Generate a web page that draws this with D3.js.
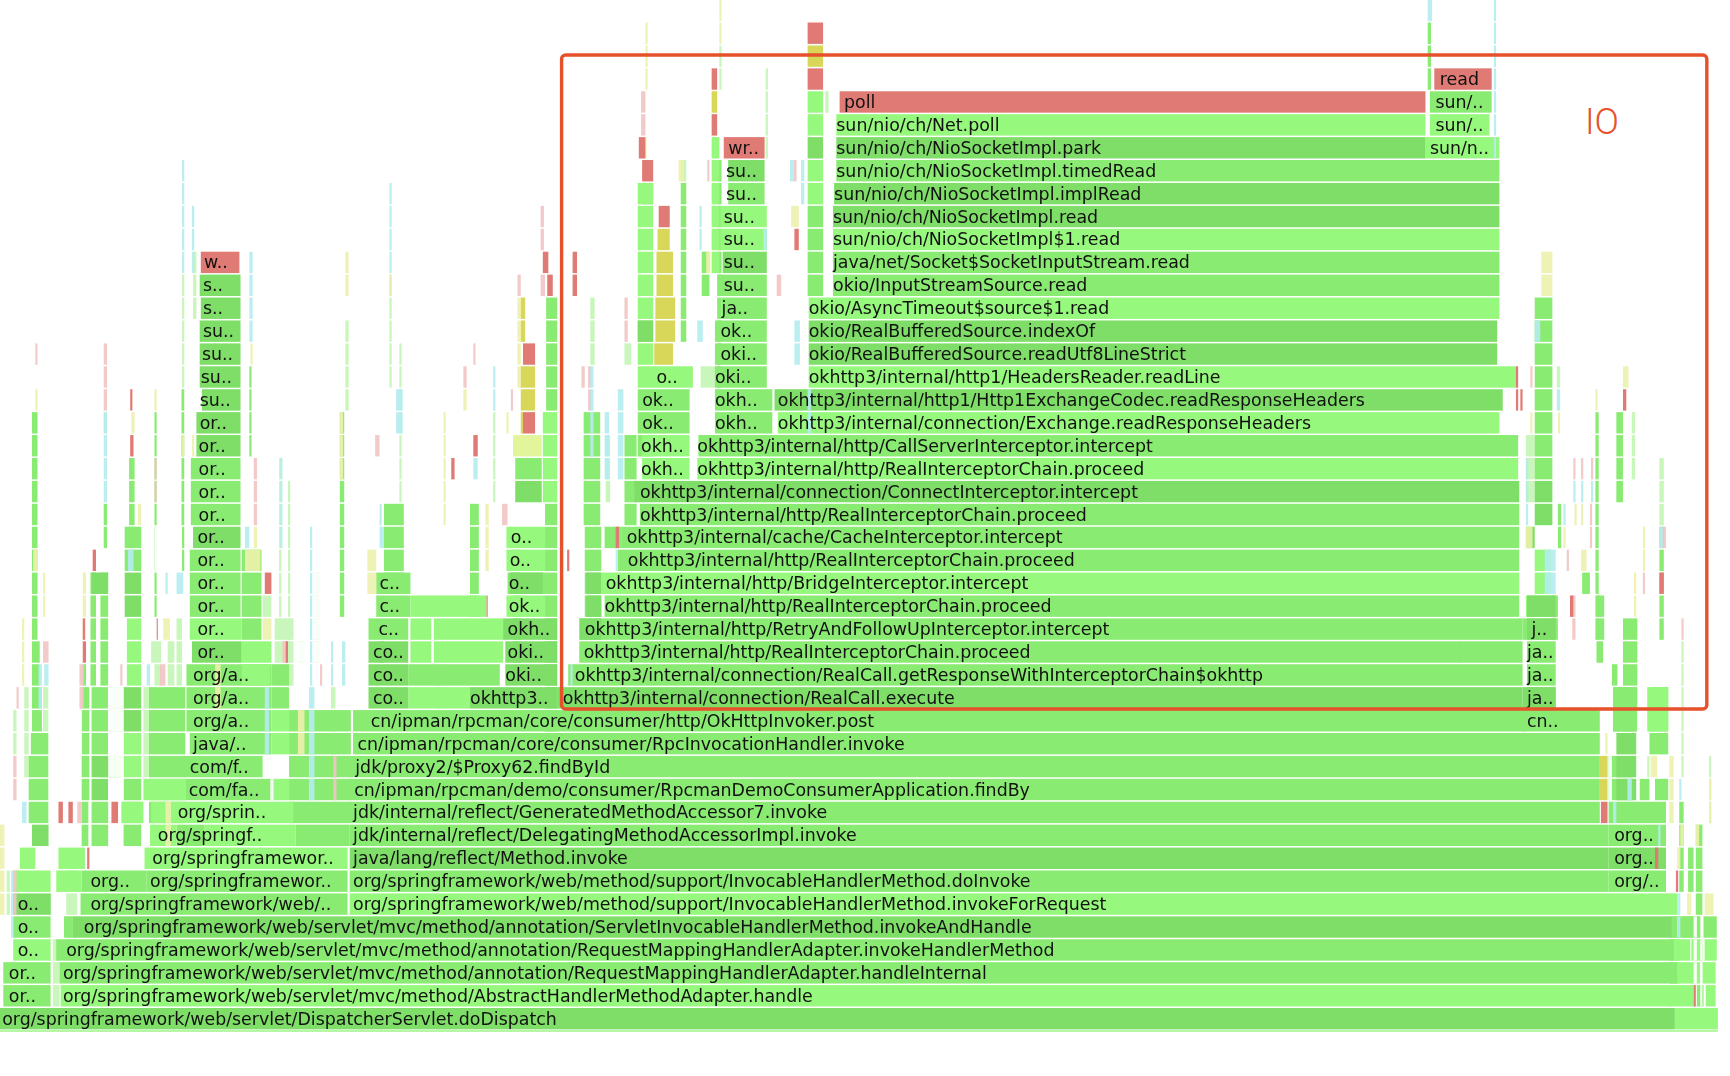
<!DOCTYPE html>
<html><head><meta charset="utf-8">
<script src="https://cdn.jsdelivr.net/npm/d3@7"></script>
<style>html,body{margin:0;padding:0;background:#fff;overflow:hidden}svg{display:block}</style>
</head><body><svg id="c" width="1730" height="1076"></svg>
<script>
// sample offsets run 0..1568 across the profile; each entry: [start, end, lowest stack level, highest stack level]
const totalSamples = 1568, topLevel = 44;
const lightGreen = [
 [1518,1557,0,0],[55,1535,1,1],[1546,1555,1,1],[1520,1541,2,2],[1543,1555,2,2],[1517,1532,3,3],[1533,1543,3,3],[1545,1556,3,3],[12,46,3,3],
 [317,1520,5,5],[12,46,6,6],[51,74,6,6],[18,32,7,7],[53,77,7,7],[131,315,7,7],[136,160,8,8],[185,268,8,8],[137,266,9,9],[130,168,10,10],
 [249,262,10,10],[90,110,11,11],[112,128,11,12],[246,262,12,13],[370,426,14,14],[219,246,16,16],[172,219,17,17],[459,494,18,18],[459,494,20,21],[1391,1406,19,20],[1383,1410,18,18],
 [578,592,29,36],[632,1376,24,24],[582,625,24,25],[705,1359,26,26],[733,1359,31,31],[755,1359,34,34],[758,1292,39,39],[733,1374,28,28],
 [653,695,34,35],[578,628,28,28],[732,746,39,40],[732,746,36,37],[492,505,23,25],[115,128,15,17],[219,245,15,15],
 [545,1377,19,19],[372,441,18,18],[372,391,16,17],[393,456,16,17],[492,505,26,26],[645,652,33,38],[1292,1359,38,38],[1296,1350,39,39],[110,130,9,9],[1493,1512,13,14]
];
const midGreen = [
 [3,46,1,2],[1535,1544,1,1],[54,1520,2,2],[51,1517,3,3],[58,66,4,4],[12,46,4,4],[1515,1541,4,4],[1544,1556,4,4],[73,315,5,5],[317,1458,6,6],[1458,1510,6,6],[74,133,6,6],[133,315,6,6],
 [317,1458,8,8],[1458,1510,8,9],[317,1450,9,9],[160,185,8,8],[268,317,8,8],[26,44,9,11],[28,44,12,12],[29,38,13,14],[74,81,8,14],[83,98,8,9],
 [83,98,12,14],[112,128,8,10],[135,168,9,14],[168,249,10,10],[166,238,11,11],[172,246,12,12],[169,246,13,15],[262,318,9,13],[317,1450,10,11],[1458,1480,10,11],
 [320,1450,12,12],[1462,1483,13,14],[1495,1512,12,14],[320,1382,13,13],[1380,1450,13,13],[246,262,14,15],[370,453,15,15],[525,1380,16,16],[515,1380,15,15],
 [1384,1410,14,16],[334,370,17,17],[341,372,18,19],[460,494,19,19],[560,1377,20,20],[548,1377,18,18],[530,545,18,21],[1380,1410,17,17],[172,218,18,20],[219,237,17,20],
 [29,36,15,16],[29,34,17,26],[75,78,15,15],[82,87,15,19],[91,98,15,19],[113,128,20,21],[117,122,21,24],[140,142,18,26],[173,218,22,24],[94,97,21,22],[494,505,13,22],[467,491,24,24],
 [580,1377,22,22],[578,625,26,27],[648,700,26,27],[633,1376,25,25],[654,695,31,31],[651,695,32,32],[648,695,28,30],[660,693,36,36],
 [1391,1407,24,31],[1461,1466,15,15],[1434,1441,19,19],[1465,1471,23,26],[1446,1449,17,26],[1504,1508,17,21],[1447,1454,17,18],[1471,1484,13,17],
 [566,577,22,25],[617,622,30,36],[732,746,32,35],[1447,1453,16,16],[465,472,16,20],[426,434,18,22],[1412,1415,21,22],
 [548,563,21,21],[578,592,25,25],[525,1380,17,17],[344,348,16,16],[348,366,19,22],[529,544,22,26],[495,505,27,31],[164.5,167,20,27],[226,228,25,28],[308,312,18,26],[636,643,32,33],
 [1296,1352,40,40],[1294,1297,41,43],[1486,1495,10,10],[1500,1512,10,10],[1462,1480,13,14],[1406,1412,17,18],[1513,1522,2,4],[1525,1541,4,4],[1537,1543,5,8],[1530,1535,6,7],[1522,1526,6,9],
 [650,654,28,37],[582,592,36,36],[758,1359,37,37],[755,1359,32,33],[563,1377,21,21]
];
const darkGreen = [
 [0,1518,0,0],[66,1515,4,4],[12,47,5,5],[317,1458,7,7],[1458,1510,7,7],[83,98,10,11],[112,128,13,14],[29,44,8,8],[505,1380,14,14],[426,505,14,14],[334,370,14,16],
 [456,505,17,17],[462,492,19,19],[1380,1410,14,14],[174,219,16,16],[175,218,21,21],[178,218,25,26],[181,218,28,30],[183,218,27,27],[181,218,32,32],[182,218,31,31],
 [575,1377,23,23],[467,491,23,23],[458,505,15,16],[525,545,17,17],[733,1357,29,30],[702,1362,27,27],[758,1292,38,38],[756,1359,36,36],[755,1359,35,35],[655,695,33,33],[660,693,37,37],
 [1391,1407,22,23],[1383,1391,21,21],[113,128,18,19],[83,98,19,19],[1384,1410,17,18],[1465,1483,10,12],[578,592,30,30],[732,746,38,38],[531,545,18,19]
];
const paleGreen = [
 [94,97,26,26],[253,255,17,24],[261,263,16,23],[313,316,27,30],[353,355,28,31],[362,364,21,29],[447,449,23,26],
 [535,539,29,31],[566,572,29,29],[652,654,41,42],[694,696,38,41],[748,751,40,40],[1411,1414,28,28],[1524,1526,11,16],[1479,1482,24,26],[1504,1508,22,24],[1383,1391,23,25],
 [46,54,1,3],[60,70,3,6],[1549,1551,9,11],[270,276,16,16],[284,290,16,19],[300,304,11,14],[160,165,15,17],[100,112,13,14],[165,167,28,32],[140,146,15,16],[152,158,15,16],[249,266,15,17],[238,246,18,18],
 [175,178,31,33],[39,44,13,14],[137,141,16,16],[12,15,12,13],[22,26,11,14],[396,400,14,15],[549,553,23,25],[617,622,37,37],[635,650,28,28],[1493,1495,11,11],[1322,1325,16,16],[130,135,11,14],[1513,1516,1,1],[6,9,5,6]
];
const pinkTint = [
 [32,34,29,29],[94,97,27,29],[140,142,23,24],[429,431,29,29],[420,423,28,28],[340,344,25,25],[463,465,27,27],[455,460,22,22],[581,585,39,40],[1387,1389,28,28],[1426,1428,24,24],
 [1433,1435,24,24],[1442,1444,24,24],[1441,1443,21,22],[1506,1510,21,21],[1524,1526,17,17],[1489,1491,19,19],[1425,1428,17,18],[230,233,22,24],[39,44,16,16],[256,260,16,16],
 [12,15,10,11],[15,17,14,14],[302,305,10,11],[490,493,34,35],[490,494,32,32],[469,472,32,32],[527,530,28,28],[533,536,27,28],[70,74,9,9],[109,111,15,15],[72,76,14,15],[290,292,15,15],[145,150,15,15],
 [566,569,30,31],[641,643,37,37],[704,708,32,32],[719,722,37,37],[1420,1422,20,20],[12,15,5,6]
];
const redTint = [
 [118,120,27,27],[118,121,25,25],[84,87,20,20],[79,81,7,7],[53,57,9,9],[62,66,9,9],[101,107,9,9],[182,217,33,33],[656,693,38,38],[761,1292,40,40],[1300,1352,41,41],
 [582,592,37,37],[579,585,38,38],[645,650,39,39],[645,650,41,41],[732,746,41,41],[732,746,43,43],[597,607,35,35],[474,485,29,29],[474,485,26,26],[519,523,32,33],[496,501,32,32],[492,497,33,33],
 [1451,1457,9,9],[1378,1380,27,27],[1374,1376,27,28],[1471,1474,27,27],[75,78,16,16],[429,433,25,25],[409,412,24,24],[1504,1508,19,19],[1423,1426,18,18],[75,77,17,17],[1519,1521,6,6],[1500,1503,7,7],[1535,1537,1,1],[720,724,34,34],
 [259,261,16,16],[142,143,17,17],[240,246,19,19],[441,442,18,18],[558,561,21,21],[514,516,20,20]
];
const cyanTint = [
 [94,97,23,26],[165,167,33,37],[174,176,33,35],[226,229,30,33],[254,256,21,24],[281,283,15,21],[310,313,15,16],[353,355,32,36],[359,365,26,27],
 [429,433,24,24],[447,449,27,28],[535,538,25,28],[548,552,24,26],[560,565,24,27],[732,735,26,27],[1391,1396,30,30],[1411,1414,27,27],[1383,1385,22,24],[1426,1428,23,23],[1433,1435,23,23],
 [1442,1444,23,23],[1417,1419,22,22],[1400,1410,19,20],[1504,1507,21,21],[1475,1479,10,10],[1503,1505,8,8],[1522,1524,10,10],[1520,1523,4,5],[40,44,15,15],[20,24,9,9],[35,38,14,15],
 [280,285,10,14],[240,244,12,14],[632,637,30,30],[1294,1298,44,44],[1354,1356,38,44],[692,695,34,34],[720,725,29,30],[133,136,15,15],[300,302,15,16],[160,166,19,19],[150,152,19,19],[222,226,21,21],[116,121,20,20],[344,348,21,21],[344,346,22,22],
 [517,519,15,15],[558,560,20,20],[726,729,36,37],[634,636,34,35],[716,719,37,37],[1462,1465,9,9],[10,12,4,6]
];
const yellowTint = [
 [32,34,27,27],[119,122,26,26],[125,128,22,22],[140,142,27,27],[165,167,25,25],[174,176,25,25],[227,229,29,29],[469,472,28,31],[646,650,40,40],[585,586,38,38],[585,587,41,43],
 [1471,1476,28,28],[1446,1448,27,27],[1412,1414,26,26],[1387,1389,26,26],[1383,1389,21,21],[1417,1419,21,21],[1427,1429,22,22],[1433,1435,22,22],[1433,1438,20,20],[1489,1491,20,21],[1481,1483,18,19],
 [1455,1457,12,12],[1452,1457,11,11],[1496,1502,11,11],[1513,1517,9,11],[1549,1551,9,10],[1537,1540,8,8],[1523,1526,8,8],[1520,1523,7,7],[1529,1533,5,5],[1545,1553,5,5],
 [353,355,32,32],[308,311,24,26],[420,423,27,27],[440,443,20,22],[459,461,26,26],[652,654,43,44],[1397,1407,32,33],[20,22,15,17],[0,4,8,8],[150,155,8,9],[270,276,12,13],[195,200,14,15],
 [313,316,32,33],[39,41,18,19],[148,154,17,17],[75,78,17,19],[222,236,20,20],[238,246,17,17],[230,233,21,21],[615,620,37,37],[640,644,33,33],[717,724,35,35],[30,34,20,20],[333,341,19,20],[402,404,22,26],[0,4,5,7]
];
const yellowBlocks = [
 [593,610,29,29],[595,610,32,33],[594,612,30,31],[596,607,34,34],[472,485,27,28],[472,474,26,26],[732,746,42,42],[1450,1457,10,11],[645,650,40,40],[472,476,30,31]
];
const paleYellowBlocks = [[465,491,25,25]];
const whiteSlits = [[46,48,1,8],[80,82,8,9],[98,112,10,14],[44,74,12,14],[44,50,9,11],[268,300,15,21],[140,165,20,21],[395,399,19,22],[391,393,16,17],[1458,1461,10,13],[1484,1486,10,13],[1541,1543,1,3],[1535,1538,1,4],[510,525,17,19],[520,525,20,21],[245,248,10,11]];
const frameLabels = [
 [0,2,"org/springframework/web/servlet/DispatcherServlet.doDispatch"],[1,8,"or.."],[1,57,"org/springframework/web/servlet/mvc/method/AbstractHandlerMethodAdapter.handle"],
 [2,8,"or.."],[2,57,"org/springframework/web/servlet/mvc/method/annotation/RequestMappingHandlerAdapter.handleInternal"],
 [3,16,"o.."],[3,60,"org/springframework/web/servlet/mvc/method/annotation/RequestMappingHandlerAdapter.invokeHandlerMethod"],
 [4,16,"o.."],[4,76,"org/springframework/web/servlet/mvc/method/annotation/ServletInvocableHandlerMethod.invokeAndHandle"],
 [5,16,"o.."],[5,82,"org/springframework/web/.."],[5,320,"org/springframework/web/method/support/InvocableHandlerMethod.invokeForRequest"],
 [6,82,"org.."],[6,136,"org/springframewor.."],[6,320,"org/springframework/web/method/support/InvocableHandlerMethod.doInvoke"],[6,1463,"org/.."],
 [7,138,"org/springframewor.."],[7,320,"java/lang/reflect/Method.invoke"],[7,1463,"org.."],
 [8,143,"org/springf.."],[8,320,"jdk/internal/reflect/DelegatingMethodAccessorImpl.invoke"],[8,1463,"org.."],
 [9,161,"org/sprin.."],[9,320,"jdk/internal/reflect/GeneratedMethodAccessor7.invoke"],
 [10,171,"com/fa.."],[10,321,"cn/ipman/rpcman/demo/consumer/RpcmanDemoConsumerApplication.findBy"],
 [11,172,"com/f.."],[11,322,"jdk/proxy2/$Proxy62.findById"],
 [12,175,"java/.."],[12,324,"cn/ipman/rpcman/core/consumer/RpcInvocationHandler.invoke"],
 [13,175,"org/a.."],[13,336,"cn/ipman/rpcman/core/consumer/http/OkHttpInvoker.post"],[13,1384,"cn.."],
 [14,175,"org/a.."],[14,338,"co.."],[14,426,"okhttp3.."],[14,510,"okhttp3/internal/connection/RealCall.execute"],[14,1384,"ja.."],
 [15,175,"org/a.."],[15,338,"co.."],[15,458,"oki.."],[15,521,"okhttp3/internal/connection/RealCall.getResponseWithInterceptorChain$okhttp"],[15,1384,"ja.."],
 [16,179,"or.."],[16,338,"co.."],[16,460,"oki.."],[16,529,"okhttp3/internal/http/RealInterceptorChain.proceed"],[16,1384,"ja.."],
 [17,179,"or.."],[17,343,"c.."],[17,460,"okh.."],[17,530,"okhttp3/internal/http/RetryAndFollowUpInterceptor.intercept"],[17,1388,"j.."],
 [18,179,"or.."],[18,344,"c.."],[18,461,"ok.."],[18,548,"okhttp3/internal/http/RealInterceptorChain.proceed"],
 [19,179,"or.."],[19,344,"c.."],[19,461,"o.."],[19,549,"okhttp3/internal/http/BridgeInterceptor.intercept"],
 [20,179,"or.."],[20,462,"o.."],[20,569,"okhttp3/internal/http/RealInterceptorChain.proceed"],
 [21,179,"or.."],[21,463,"o.."],[21,568,"okhttp3/internal/cache/CacheInterceptor.intercept"],
 [22,180,"or.."],[22,580,"okhttp3/internal/http/RealInterceptorChain.proceed"],
 [23,180,"or.."],[23,580,"okhttp3/internal/connection/ConnectInterceptor.intercept"],
 [24,180,"or.."],[24,581,"okh.."],[24,632,"okhttp3/internal/http/RealInterceptorChain.proceed"],
 [25,180,"or.."],[25,581,"okh.."],[25,632,"okhttp3/internal/http/CallServerInterceptor.intercept"],
 [26,181,"or.."],[26,582,"ok.."],[26,648,"okh.."],[26,705,"okhttp3/internal/connection/Exchange.readResponseHeaders"],
 [27,181,"su.."],[27,582,"ok.."],[27,648,"okh.."],[27,705,"okhttp3/internal/http1/Http1ExchangeCodec.readResponseHeaders"],
 [28,182,"su.."],[28,595,"o.."],[28,648,"oki.."],[28,733,"okhttp3/internal/http1/HeadersReader.readLine"],
 [29,183,"su.."],[29,653,"oki.."],[29,733,"okio/RealBufferedSource.readUtf8LineStrict"],
 [30,184,"su.."],[30,653,"ok.."],[30,733,"okio/RealBufferedSource.indexOf"],
 [31,184,"s.."],[31,654,"ja.."],[31,733,"okio/AsyncTimeout$source$1.read"],
 [32,184,"s.."],[32,656,"su.."],[32,755,"okio/InputStreamSource.read"],
 [33,185,"w.."],[33,656,"su.."],[33,755,"java/net/Socket$SocketInputStream.read"],
 [34,656,"su.."],[34,755,"sun/nio/ch/NioSocketImpl$1.read"],
 [35,656,"su.."],[35,755,"sun/nio/ch/NioSocketImpl.read"],
 [36,658,"su.."],[36,756,"sun/nio/ch/NioSocketImpl.implRead"],
 [37,658,"su.."],[37,758,"sun/nio/ch/NioSocketImpl.timedRead"],
 [38,660,"wr.."],[38,758,"sun/nio/ch/NioSocketImpl.park"],[38,1296,"sun/n.."],
 [39,758,"sun/nio/ch/Net.poll"],[39,1301,"sun/.."],
 [40,765,"poll"],[40,1301,"sun/.."],
 [41,1305,"read"]
];
const calloutText = ["IO"];
const calloutBox = [509,1547];

const svg = d3.select("#c");
const x = d3.scaleLinear().domain([0,totalSamples]).range([0,1730]);
const levels = d3.range(0,topLevel+1);
const y = d3.scaleBand().domain(levels).range([1029.4,-0.4]).paddingInner(0.0667).paddingOuter(0);
const chart = svg.append("g").style("filter","blur(0.5px)");

function drawFrames(list,fill,op){
  const cells = list.flatMap(([a,b,lo,hi])=>d3.range(lo,hi+1).map(l=>({a,b,l})));
  chart.append("g").attr("fill",fill).attr("fill-opacity",op).selectAll("rect").data(cells).join("rect")
    .attr("x",d=>x(d.a)).attr("width",d=>x(d.b)-x(d.a)).attr("y",d=>y(d.l)).attr("height",y.bandwidth());
}
drawFrames(paleGreen,"#c9f6ba",1);
drawFrames(midGreen,"#8aeb72",1);
drawFrames(lightGreen,"#96f87c",1);
drawFrames(darkGreen,"#7ede68",1);
drawFrames(whiteSlits,"#ffffff",0.9);
drawFrames(paleYellowBlocks,"#e2f59a",1);
drawFrames(pinkTint,"#f2c4c4",0.9);
drawFrames(cyanTint,"#b4ecf0",0.9);
drawFrames(yellowTint,"#ecf1ac",0.9);
drawFrames(yellowBlocks,"#d9d75a",1);
drawFrames(redTint,"#e07a74",1);

chart.append("g").selectAll("text").data(frameLabels).join("text")
  .attr("x",d=>x(d[1])).attr("y",d=>y(d[0])+y.bandwidth()/2+6)
  .attr("font-family","'DejaVu Sans'").attr("font-size",17.4).attr("fill","#111")
  .text(d=>d[2]);

// thin strip under the root frame
chart.append("rect").attr("x",x(0)).attr("width",x(1557)-x(0)).attr("y",y(0)+y.bandwidth()+0.8).attr("height",1.6).attr("fill","#a4f58d");

const ann = svg.append("g");
ann.append("rect").attr("x",x(calloutBox[0])).attr("width",x(calloutBox[1])-x(calloutBox[0]))
  .attr("y",55).attr("height",654).attr("rx",4).attr("fill","none").attr("stroke","#e6502a").attr("stroke-width",3.4);
ann.append("text").attr("x",x(1452)).attr("y",134).attr("text-anchor","middle").attr("font-family","Roboto").attr("font-weight",300)
  .attr("font-size",36).attr("fill","#e6502a").text(calloutText[0]);
</script></body></html>
